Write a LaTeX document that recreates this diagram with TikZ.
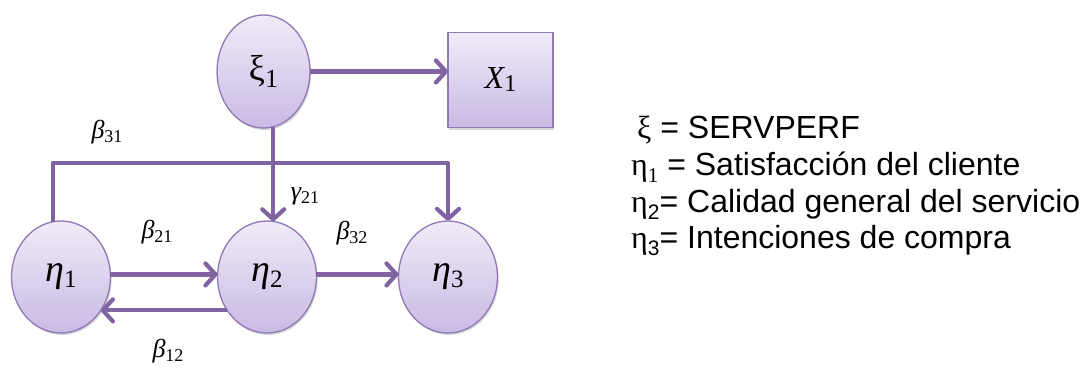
\documentclass[tikz,border=0pt]{standalone}
\usepackage{fontspec}
\usetikzlibrary{arrows.meta,shapes.geometric,shadows}
\newfontfamily\legendfont{Liberation Sans}
\newfontfamily\grk{Liberation Serif}

\definecolor{arrowcol}{RGB}{128,100,162}
\definecolor{nodeedge}{RGB}{145,120,182}
\definecolor{fillTop}{RGB}{240,235,248}
\definecolor{fillBot}{RGB}{201,186,228}

% lowered subscript digit inside the legend lines
\newcommand{\lsub}[1]{\raisebox{-0.22em}{\fontsize{21}{21}\selectfont #1}}
% italic symbol with an upright, lowered index:
% size, symbol, index size, drop of the index, index
\newcommand{\isym}[5]{{\grk\itshape\fontsize{#1}{#1}\selectfont #2}\raisebox{-#4}{\grk\fontsize{#3}{#3}\selectfont #5}}
\newcommand{\cons}[2]{\isym{38}{#1}{25}{6pt}{#2}}
\newcommand{\coefsym}[2]{\isym{26}{#1}{18}{4pt}{#2}}

\begin{document}
\begin{tikzpicture}[x=1pt,y=-1pt,
  softshadow/.style={drop shadow={shadow xshift=1.2pt,shadow yshift=-2pt,opacity=0.22,fill=black!70}},
  latent/.style={ellipse,draw=nodeedge,line width=1.3pt,top color=fillTop,bottom color=fillBot,
    inner sep=0pt,outer sep=0pt,minimum width=99pt,minimum height=112pt,softshadow},
  observed/.style={rectangle,draw=nodeedge,line width=1.3pt,top color=fillTop,bottom color=fillBot,
    inner sep=0pt,outer sep=0pt,minimum width=105pt,minimum height=95pt,softshadow},
  path arrow/.style={draw=arrowcol,line width=4.2pt,line join=round,
    -{Straight Barb[length=10pt,width=22pt,line cap=round,line join=round]}},
  coef/.style={inner sep=0pt},
  legend/.style={anchor=base west,inner sep=0pt,font=\legendfont\fontsize{32}{38}\selectfont}]
\useasboundingbox (0,0) rectangle (1092,367);

% constructs
\node[latent,minimum width=93pt,minimum height=113pt] (xi) at (263.5,71.5)
  {{\grk\fontsize{36}{40}\selectfont ξ}\raisebox{-7pt}{\grk\fontsize{26}{26}\selectfont 1}};
\node[observed] (x1) at (500.5,80) {\isym{32}{X}{24}{3pt}{1}};
\node[latent] (e1) at (61,277) {\cons{η}{1}};
\node[latent] (e2) at (267,277) {\cons{η}{2}};
\node[latent] (e3) at (448,277) {\cons{η}{3}};

% level of the long beta_31 path
\coordinate (bend) at (0,163);

% structural paths
\draw[path arrow] (xi.east) -- (xi.east -| x1.west);
\draw[path arrow] (xi.-80) -- (xi.-80 |- e2.84);
\draw[path arrow] (e1.98) -- (e1.98 |- bend) -- (e3.north |- bend) -- (e3.north);
\draw[path arrow] (e1.3) -- (e1.3 -| e2.177);
\draw[path arrow] (e2.220) -- (e2.220 -| e1.-40);
\draw[path arrow] (e2.3) -- (e2.3 -| e3.177);

% path coefficients
\node[coef] (b31) at (107,132) {\coefsym{β}{31}};
\node[coef] (g21) at (305,196) {\coefsym{γ}{21}};
\node[coef] (b21) at (157,232) {\coefsym{β}{21}};
\node[coef] (b32) at (352,233) {\coefsym{β}{32}};
\node[coef] (b12) at (168,351) {\coefsym{β}{12}};

% legend
\node[legend] (lxi) at (637,138) {{\grk ξ} = SERVPERF};
\node[legend] (leta1) at (631,175)
  {{\grk η}\raisebox{-0.22em}{\grk\fontsize{21}{21}\selectfont 1} = Satisfacción del cliente};
\node[legend] (leta2) at (631,212) {{\grk η}\lsub{2}= Calidad general del servicio};
\node[legend] (leta3) at (631,248) {{\grk η}\lsub{3}= Intenciones de compra};
\end{tikzpicture}
\end{document}
